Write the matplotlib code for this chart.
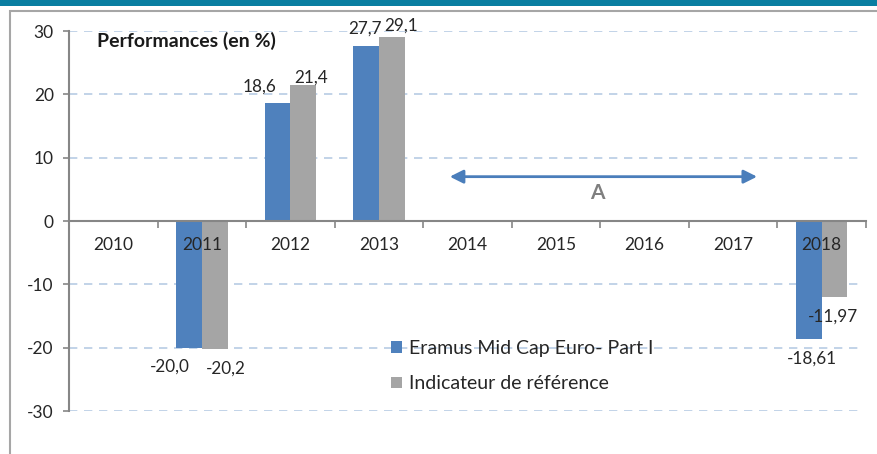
import matplotlib
matplotlib.use("Agg")
import matplotlib.pyplot as plt
from matplotlib.patches import Rectangle
import matplotlib.transforms as mtransforms
import numpy as np

# ---- data ----
years = ["2010", "2011", "2012", "2013", "2014", "2015", "2016", "2017", "2018"]
fund = [np.nan, -20.0, 18.6, 27.7, np.nan, np.nan, np.nan, np.nan, -18.61]
benchmark = [np.nan, -20.2, 21.4, 29.1, np.nan, np.nan, np.nan, np.nan, -11.97]
fund_labels = ["", "-20,0", "18,6", "27,7", "", "", "", "", "-18,61"]
bench_labels = ["", "-20,2", "21,4", "29,1", "", "", "", "", "-11,97"]
series_names = ["Eramus Mid Cap Euro- Part I", "Indicateur de référence"]
yticks = [-30, -20, -10, 0, 10, 20, 30]

# label offsets in points (dx, dy) relative to bar end
fund_offsets = [None, (-14, -14), (-13, 12), (-1, 12), None, None, None, None, (2, -14)]
bench_offsets = [None, (8, -14), (6, 6), (7, 8), None, None, None, None, (-1, -14)]

BLUE = "#4F81BD"
GREY = "#A5A5A5"
TEXT = "#262626"
FONT = ["Lato", "DejaVu Sans"]
plt.rcParams["font.family"] = FONT

W, H = 878, 454
fig = plt.figure(figsize=(W / 100, H / 100), dpi=100)
fig.patch.set_facecolor("white")

# top band and outer frame
fig.patches.append(Rectangle((0, 1 - 6 / H), 1, 6 / H, transform=fig.transFigure,
                             facecolor="#0A7EA1", edgecolor="none", zorder=0))
fig.patches.append(Rectangle((10.5 / W, -0.2), 1.2, 1.2 - 11.5 / H + 0.001,
                             transform=fig.transFigure, facecolor="none",
                             edgecolor="#A6A6A6", linewidth=1.5, zorder=0))

ax_l, ax_r = 69 / W, 866 / W
ax_t, ax_b = 1 - 31 / H, 1 - 411 / H
ax = fig.add_axes([ax_l, ax_b, ax_r - ax_l, ax_t - ax_b])
ax.set_facecolor("none")

x = np.arange(len(years))
bw = 0.29
b1 = ax.bar(x - bw / 2, fund, bw, color=BLUE, label=series_names[0], zorder=3)
b2 = ax.bar(x + bw / 2, benchmark, bw, color=GREY, label=series_names[1], zorder=3)

ax.set_xlim(-0.5, len(years) - 0.5)
ax.set_ylim(-30, 30)

# dashed gridlines
for v in yticks:
    if v != 0:
        ax.axhline(v, xmin=0, xmax=0.995, color="#B8CCE4", lw=1.2,
                   dashes=(5, 4), zorder=1)

# spines
for s in ["top", "right"]:
    ax.spines[s].set_visible(False)
ax.spines["left"].set_color("#868686")
ax.spines["left"].set_linewidth(1.5)
ax.spines["bottom"].set_position(("data", 0))
ax.spines["bottom"].set_color("#868686")
ax.spines["bottom"].set_linewidth(1.5)
ax.spines["bottom"].set_zorder(4)

ax.set_yticks(yticks)
ax.set_yticklabels([str(v) for v in yticks])
ax.tick_params(axis="y", direction="out", length=4, width=1.2, color="#868686",
               pad=7, labelsize=12.5, labelcolor=TEXT)

# category labels drawn on top of the bars, boundary ticks below the axis line
ax.set_xticks(np.arange(len(years) + 1) - 0.5)
ax.set_xticklabels([])
ax.tick_params(axis="x", direction="out", length=5, width=1.2, color="#868686")
lbl_tr = mtransforms.offset_copy(ax.transData, fig=fig, x=0, y=-17, units="points")
for xi, yr in zip(x, years):
    ax.text(xi, 0, yr, transform=lbl_tr, ha="center", va="center",
            fontsize=12.5, color=TEXT, zorder=6)

# value labels
for bars, labels, offs in [(b1, fund_labels, fund_offsets), (b2, bench_labels, bench_offsets)]:
    for rect, txt, off in zip(bars, labels, offs):
        if not txt:
            continue
        xc = rect.get_x() + rect.get_width() / 2
        yv = rect.get_height()
        ax.annotate(txt, (xc, yv), xytext=off, textcoords="offset points",
                    ha="center", va="center", fontsize=12.3, color=TEXT, zorder=6)

# title
ax.text(0.035, 0.975, "Performances (en %)", transform=ax.transAxes,
        fontsize=14, fontweight="bold", color="#1a1a1a", va="center", ha="left")

# period arrow
ax.annotate("", xy=(7.27, 7.0), xytext=(3.80, 7.0),
            arrowprops=dict(arrowstyle="<|-|>", color="#4A7EBB", lw=2,
                            mutation_scale=20, shrinkA=0, shrinkB=0), zorder=5)
ax.text(5.47, 4.4, "A", fontsize=15, fontweight="bold", color="#7F7F7F",
        ha="center", va="center")

# legend
leg = ax.legend(loc="upper left", bbox_to_anchor=(391 / W, 1 - 340 / H),
                bbox_transform=fig.transFigure, frameon=False, fontsize=14,
                handlelength=0.55, handleheight=0.55, handletextpad=0.4,
                labelspacing=0.95, borderpad=0, borderaxespad=0)
for t in leg.get_texts():
    t.set_color(TEXT)

fig.savefig("out.png", dpi=100, facecolor="white")
